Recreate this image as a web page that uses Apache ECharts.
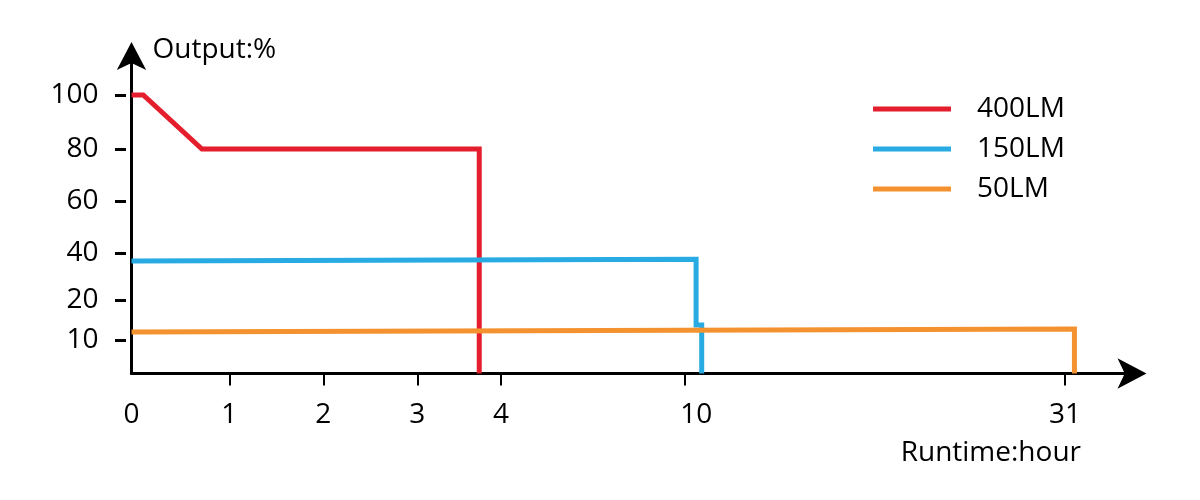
<!DOCTYPE html>
<html>
<head>
<meta charset="utf-8">
<script src="https://cdn.jsdelivr.net/npm/echarts@6/dist/echarts.min.js"></script>
<style>
  html, body { margin: 0; padding: 0; background: #ffffff; }
  #chart { width: 1200px; height: 500px; }
</style>
</head>
<body>
<div id="chart"></div>
<script>
// ---------------- DATA ----------------
const seriesNames = ['400LM', '150LM', '50LM'];

const xTickValues = [0, 1, 2, 3, 4, 10, 31];          // hours
const xTickLabels = ['0', '1', '2', '3', '4', '10', '31'];
const yTickValues = [0, 10, 20, 40, 60, 80, 100];    // output %
const yTickLabels = ['', '10', '20', '40', '60', '80', '100'];

const red400Hours    = [0, 0.12, 0.72, 3.74, 3.74];
const red400Output   = [100, 100, 80, 80, 0];
const blue150Hours   = [0, 10.65, 10.65, 10.96, 10.96];
const blue150Output  = [36.8, 37.5, 13.75, 13.75, 0];
const orange50Hours  = [0, 31.52, 31.52];
const orange50Output = [12.0, 12.75, 0];

// ---------------- LAYOUT (hand-drawn, non-uniform axis scales) ----------------
const X_TICK_SPOTS = [0, 97.8, 191.8, 285.8, 369.5, 552.8, 933.5];
const X_SPAN = 1000;
const Y_TICK_SPOTS = [0, 33.5, 73.5, 120, 172.5, 224.5, 278.5];
const Y_SPAN = 317.5;

const FONT = '"Open Sans", "Liberation Sans", Arial, sans-serif';
const COLORS = ['#E41E2C', '#27ABE2', '#F3922F'];
const TEXT = '#000';

function warp(v, vals, spots) {
  const n = vals.length;
  for (let i = 1; i < n; i++) {
    if (v <= vals[i] || i === n - 1) {
      const t = (v - vals[i - 1]) / (vals[i] - vals[i - 1]);
      return spots[i - 1] + t * (spots[i] - spots[i - 1]);
    }
  }
  return spots[n - 1];
}
const wx = h => warp(h, xTickValues, X_TICK_SPOTS);
const wy = v => warp(v, yTickValues, Y_TICK_SPOTS);
const pairs = (hs, vs) => hs.map((h, i) => [wx(h), wy(vs[i])]);

const seriesData = [
  pairs(red400Hours, red400Output),
  pairs(blue150Hours, blue150Output),
  pairs(orange50Hours, orange50Output)
];

const chart = echarts.init(document.getElementById('chart'), null, { renderer: 'canvas' });

const option = {
  backgroundColor: '#ffffff',
  animation: false,
  color: COLORS,
  grid: { left: 131.5, right: 68.5, top: 56, bottom: 126.5, containLabel: false },
  legend: {
    orient: 'vertical',
    left: 873,
    top: 95,
    padding: 0,
    itemWidth: 78,
    itemHeight: 5,
    itemGap: 12,
    icon: 'rect',
    data: seriesNames,
    textStyle: { fontFamily: FONT, fontSize: 28, color: TEXT, padding: [0, 0, 0, 21] }
  },
  xAxis: {
    type: 'value',
    min: 0,
    max: X_SPAN,
    axisLine: {
      show: true,
      lineStyle: { color: '#000', width: 3 },
      symbol: ['none', 'arrow'],
      symbolSize: [23, 29],
      symbolOffset: [0, 15]
    },
    axisTick: {
      show: true,
      inside: false,
      length: 12,
      lineStyle: { color: '#000', width: 2 },
      customValues: X_TICK_SPOTS.slice(1)
    },
    axisLabel: {
      show: true,
      margin: 28,
      customValues: X_TICK_SPOTS,
      fontFamily: FONT,
      fontSize: 28,
      color: TEXT,
      formatter: function (val) {
        const i = X_TICK_SPOTS.indexOf(val);
        const s = i >= 0 ? xTickLabels[i] : '';
        return s === '10' ? '{shift|' + s + '}' : s;
      },
      rich: {
        shift: { fontFamily: FONT, fontSize: 28, color: TEXT, padding: [0, 0, 0, 24] }
      }
    },
    splitLine: { show: false }
  },
  yAxis: [
    {
      type: 'value',
      min: 0,
      max: Y_SPAN,
      position: 'left',
      axisLine: {
        show: true,
        lineStyle: { color: '#000', width: 3 },
        symbol: ['none', 'arrow'],
        symbolSize: [22, 28],
        symbolOffset: [0, 14]
      },
      axisTick: { show: false },
      axisLabel: { show: false },
      splitLine: { show: false }
    },
    {
      type: 'value',
      min: 0,
      max: Y_SPAN,
      position: 'left',
      offset: 5.5,
      axisLine: { show: false },
      axisTick: {
        show: true,
        length: 11,
        lineStyle: { color: '#000', width: 3 },
        customValues: Y_TICK_SPOTS.slice(1)
      },
      axisLabel: {
        show: true,
        margin: 27.5,
        customValues: Y_TICK_SPOTS.slice(1),
        fontFamily: FONT,
        fontSize: 28,
        color: TEXT,
        formatter: function (val) {
          const i = Y_TICK_SPOTS.indexOf(val);
          return i >= 0 ? yTickLabels[i] : '';
        }
      },
      splitLine: { show: false }
    }
  ],
  graphic: [
    {
      type: 'text',
      left: 152.5,
      top: 36,
      style: { text: 'Output:%', fontFamily: FONT, fontSize: 28, fill: TEXT }
    },
    {
      type: 'text',
      right: 119,
      top: 439,
      style: { text: 'Runtime:hour', fontFamily: FONT, fontSize: 28, fill: TEXT }
    }
  ],
  series: seriesNames.map((name, k) => ({
    name: name,
    type: 'line',
    xAxisIndex: 0,
    yAxisIndex: 0,
    data: seriesData[k],
    symbol: 'none',
    showSymbol: false,
    clip: false,
    lineStyle: { width: 5, color: COLORS[k], join: 'miter', cap: 'butt' },
    itemStyle: { color: COLORS[k] },
    z: 3 + k
  }))
};

chart.setOption(option);
</script>
</body>
</html>
